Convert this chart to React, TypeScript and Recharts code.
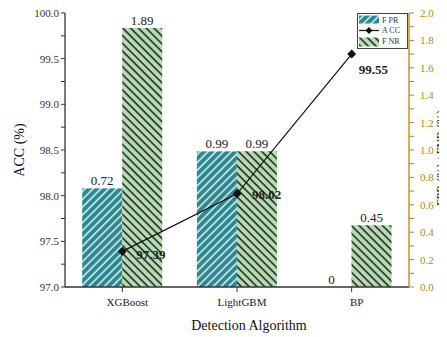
import React from "react";
import {
  ComposedChart,
  Bar,
  Line,
  XAxis,
  YAxis,
  LabelList,
} from "recharts";

const categories = ["XGBoost", "LightGBM", "BP"];
const fprValues = [0.72, 0.99, 0];
const fnrValues = [1.89, 0.99, 0.45];
const accValues = [97.39, 98.02, 99.55];
const leftTicks = [97, 97.25, 97.5, 97.75, 98, 98.25, 98.5, 98.75, 99, 99.25, 99.5, 99.75, 100];
const rightTicks = [0, 0.1, 0.2, 0.3, 0.4, 0.5, 0.6, 0.7, 0.8, 0.9, 1.0, 1.1, 1.2, 1.3, 1.4, 1.5, 1.6, 1.7, 1.8, 1.9, 2.0];

const data = categories.map((name, i) => ({
  name,
  FPR: fprValues[i],
  FNR: fnrValues[i],
  ACC: accValues[i],
}));

const FONT = '"Liberation Serif", "DejaVu Serif", serif';
const TEAL = "#2a8890";
const GREEN = "#b6dcb3";
const GOLD = "#b8860b";
const AXIS = "#333333";

const txt = (extra: any = {}) => ({ fontFamily: FONT, ...extra });

const LeftTick = (props: any) => {
  const { x, y, payload } = props;
  const v = payload.value;
  if (Math.abs(v * 2 - Math.round(v * 2)) > 1e-6) return null;
  return (
    <text x={x} y={y} textAnchor="end" dominantBaseline="central" fontSize={11} style={txt()} fill="#333">
      {v.toFixed(1)}
    </text>
  );
};

const RightTick = (props: any) => {
  const { x, y, payload } = props;
  const v = payload.value;
  if (Math.abs(v * 5 - Math.round(v * 5)) > 1e-6) return null;
  return (
    <text x={x} y={y} textAnchor="start" dominantBaseline="central" fontSize={11} style={txt()} fill={GOLD}>
      {v.toFixed(1)}
    </text>
  );
};

const XTick = (props: any) => {
  const { x, y, payload } = props;
  return (
    <text x={x + 5} y={y} textAnchor="middle" dominantBaseline="hanging" fontSize={11} style={txt()} fill="#222">
      {payload.value}
    </text>
  );
};

const Diamond = (props: any) => {
  const { cx, cy } = props;
  if (cx == null || cy == null) return null;
  const r = 4.5;
  return <path d={`M${cx},${cy - r} L${cx + r},${cy} L${cx},${cy + r} L${cx - r},${cy} Z`} fill="#111" />;
};

const accLabelOffsets = [
  [14, 3],
  [15, 1],
  [7, 15],
];

const AccLabel = (props: any) => {
  const { x, y, value, index } = props;
  const [dx, dy] = accLabelOffsets[index] || [10, 5];
  return (
    <text x={x + dx} y={y + dy} textAnchor="start" dominantBaseline="central" fontSize={13} fontWeight="bold" style={txt()} fill="#222">
      {Number(value).toFixed(2)}
    </text>
  );
};

const barLabelText = (x: number, y: number, width: number, value: any) => (
  <text x={x + width / 2} y={y - 3} textAnchor="middle" fontSize={13} style={txt()} fill="#222">
    {String(value)}
  </text>
);

const FprShape = (props: any) => {
  const { x, y, width, height, value } = props;
  const v = Array.isArray(value) ? value[1] - value[0] : value;
  return (
    <g>
      {height > 0 ? <rect x={x} y={y} width={width} height={height} fill="url(#fprPattern)" /> : null}
      {barLabelText(x, y, width, v)}
    </g>
  );
};

const BarLabel = (props: any) => {
  const { x, y, width, value } = props;
  return barLabelText(x, y, width, value);
};

const LegendBox = () => (
  <svg width={51} height={36} style={{ display: "block" }}>
    <rect x={0.5} y={0.5} width={50} height={35} fill="#fff" stroke="#444" strokeWidth={1} />
    <rect x={2} y={2.5} width={20} height={8} fill="url(#fprPattern)" />
    <line x1={2} y1={17.5} x2={22} y2={17.5} stroke="#111" strokeWidth={1.2} />
    <path d="M12,14 L15.5,17.5 L12,21 L8.5,17.5 Z" fill="#111" />
    <rect x={2} y={24.5} width={20} height={9} fill="url(#fnrPattern)" />
    <text x={25} y={7} fontSize={8} style={txt()} fill="#333" dominantBaseline="central">F PR</text>
    <text x={25} y={17.5} fontSize={8} style={txt()} fill="#333" dominantBaseline="central">A CC</text>
    <text x={25} y={28.5} fontSize={8} style={txt()} fill="#333" dominantBaseline="central">F NR</text>
  </svg>
);

export default function App() {
  return (
    <div style={{ width: 439, height: 329, position: "relative", fontFamily: FONT }}>
      <svg width={0} height={0} style={{ position: "absolute" }}>
        <defs>
          <pattern id="fprPattern" patternUnits="userSpaceOnUse" width={5.5} height={5.5} patternTransform="rotate(45)">
            <rect x={0} y={0} width={5.5} height={5.5} fill={TEAL} />
            <line x1={1} y1={0} x2={1} y2={5.5} stroke="#ffffff" strokeWidth={1.3} />
          </pattern>
          <pattern id="fnrPattern" patternUnits="userSpaceOnUse" width={5.5} height={5.5} patternTransform="rotate(-45)">
            <rect x={0} y={0} width={5.5} height={5.5} fill={GREEN} />
            <line x1={1} y1={0} x2={1} y2={5.5} stroke="#111111" strokeWidth={1.4} />
          </pattern>
        </defs>
      </svg>
      <ComposedChart
        width={439}
        height={329}
        data={data}
        margin={{ top: 5, right: 8, left: 7, bottom: 0 }}
        barCategoryGap="15%"
        barGap={0}
        style={{ fontFamily: FONT }}
      >
        <XAxis
          dataKey="name"
          height={50}
          tick={<XTick />}
          tickSize={5}
          tickMargin={6}
          axisLine={{ stroke: AXIS, strokeWidth: 1.3 }}
          tickLine={{ stroke: AXIS }}
          label={(p: any) => {
            const vb = p.viewBox || {};
            return (
              <text x={vb.x + vb.width / 2 + 12} y={vb.y + 38} textAnchor="middle" dominantBaseline="central" fontSize={14} style={txt()} fill="#111">
                Detection Algorithm
              </text>
            );
          }}
        />
        <XAxis
          xAxisId="top"
          dataKey="name"
          orientation="top"
          height={0}
          tick={false}
          tickLine={false}
          axisLine={{ stroke: AXIS, strokeWidth: 1.3 }}
        />
        <YAxis
          yAxisId="left"
          orientation="left"
          width={50}
          domain={[97, 100]}
          ticks={leftTicks}
          interval={0}
          tick={<LeftTick />}
          tickSize={4}
          tickMargin={2}
          axisLine={{ stroke: AXIS, strokeWidth: 1.3 }}
          tickLine={{ stroke: AXIS }}
          allowDataOverflow
          label={() => {
            const cx = 11;
            const cy = 142;
            return (
              <text x={cx} y={cy} transform={`rotate(-90 ${cx} ${cy})`} textAnchor="middle" dominantBaseline="central" fontSize={14} style={txt()} fill="#111">
                ACC (%)
              </text>
            );
          }}
        />
        <YAxis
          yAxisId="right"
          orientation="right"
          width={30}
          domain={[0, 2]}
          ticks={rightTicks}
          interval={0}
          tick={<RightTick />}
          tickSize={5}
          tickMargin={6}
          axisLine={{ stroke: GOLD, strokeWidth: 1.3 }}
          tickLine={{ stroke: GOLD }}
          allowDataOverflow
          label={() => {
            const cx = 432.5;
            const cy = 150;
            return (
              <text x={cx} y={cy} transform={`rotate(-90 ${cx} ${cy})`} textAnchor="middle" dominantBaseline="central" fontSize={12} style={txt()} fill="#111">
                FPR (%) / FNR (%)
              </text>
            );
          }}
        />
        <Bar yAxisId="right" dataKey="FPR" name="FPR" fill="url(#fprPattern)" shape={<FprShape />} isAnimationActive={false} />
        <Bar yAxisId="right" dataKey="FNR" name="FNR" fill="url(#fnrPattern)" isAnimationActive={false}>
          <LabelList dataKey="FNR" content={<BarLabel />} />
        </Bar>
        <Line
          yAxisId="left"
          dataKey="ACC"
          name="ACC"
          stroke="#111"
          strokeWidth={1.2}
          dot={<Diamond />}
          activeDot={false}
          isAnimationActive={false}
        >
          <LabelList dataKey="ACC" content={<AccLabel />} />
        </Line>
      </ComposedChart>
      <div style={{ position: "absolute", left: 349, top: 5 }}>
        <LegendBox />
      </div>
    </div>
  );
}
